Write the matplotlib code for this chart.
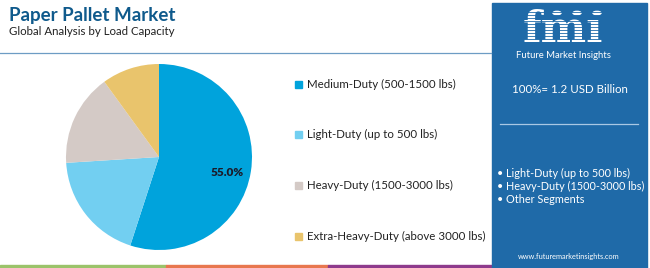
import matplotlib.pyplot as plt
from matplotlib.patches import Rectangle, Circle

segments = ["Medium-Duty (500-1500 lbs)", "Light-Duty (up to 500 lbs)",
            "Heavy-Duty (1500-3000 lbs)", "Extra-Heavy-Duty (above 3000 lbs)"]
shares = [55.0, 19.0, 16.0, 10.0]
colors = ["#00a3dc", "#72cff1", "#d4cac6", "#e9c46c"]
other_segments = ["Light-Duty (up to 500 lbs)", "Heavy-Duty (1500-3000 lbs)", "Other Segments"]
market_size = "100%= 1.2 USD Billion"

W, H = 650, 268
plt.rcParams['font.family'] = ['Lato', 'DejaVu Sans']
fig = plt.figure(figsize=(W / 100, H / 100), dpi=100)
fig.patch.set_facecolor("white")

def fx(x):
    return x / W

def fy(y):
    return 1 - y / H

# title block
fig.text(fx(9), fy(15), "Paper Pallet Market", fontsize=13.5, fontweight="bold",
         color="#0f5a8c", va="center", ha="left")
fig.text(fx(9), fy(31), "Global Analysis by Load Capacity", fontsize=8.3,
         color="#222222", va="center", ha="left")
fig.add_artist(plt.Line2D([0, fx(491)], [fy(52.5), fy(52.5)], color="#6d9cc4", lw=0.9))

# pie
cx, cy, r = 159, 157, 93
ax = fig.add_axes([fx(cx - r), fy(cy + r), fx(2 * r), 2 * r / H])
wedges, _ = ax.pie(shares, colors=colors, startangle=90, counterclock=False,
                   radius=1, wedgeprops=dict(linewidth=0))
ax.set_xlim(-1, 1)
ax.set_ylim(-1, 1)
ax.set_aspect("equal")
ax.axis("off")
fig.text(fx(227), fy(173), f"{shares[0]:.1f}%", fontsize=8.5, fontweight="heavy",
         color="#1b1b2a", ha="center", va="center")

# legend
leg_y = [84, 134, 185, 236]
for lab, col, y in zip(segments, colors, leg_y):
    fig.patches.append(Rectangle((fx(295), fy(y + 3.5)), fx(7), 7 / H, color=col,
                                 transform=fig.transFigure, figure=fig))
    fig.text(fx(307), fy(y), lab, fontsize=8.3, color="#222222", va="center", ha="left")

# bottom color strip
for x0, x1, c in [(0, 166, "#9bc36a"), (166, 328, "#e8774f"), (328, 492, "#8e3a8c")]:
    fig.patches.append(Rectangle((fx(x0), 0), fx(x1 - x0), 3.5 / H, color=c,
                                 transform=fig.transFigure, figure=fig))

# right info panel
box = "#1f6aa8"
fig.patches.append(Rectangle((fx(492), 0), fx(155), fy(3), color=box,
                             transform=fig.transFigure, figure=fig))
fig.text(fx(563), fy(42), "fmı", fontsize=31, fontweight="bold", color="white",
         ha="center", va="baseline", family=["DejaVu Serif"])
for x in [557, 577, 597]:
    fig.patches.append(Circle((fx(x), fy(13)), 4 / W, color="white",
                              transform=fig.transFigure, figure=fig))
for yy in range(12, 46, 3):
    fig.add_artist(plt.Line2D([fx(512), fx(620)], [fy(yy), fy(yy)], color=box, lw=0.6,
                              zorder=5))
fig.text(fx(563), fy(55.5), "Future Market Insights", fontsize=6.8, color="white",
         ha="center", va="center")
fig.text(fx(570), fy(89.5), market_size, fontsize=8.3, color="white",
         ha="center", va="center")
fig.add_artist(plt.Line2D([fx(500), fx(638)], [fy(123.5), fy(123.5)], color="#a9c8e4", lw=0.9))
for i, seg in enumerate(other_segments):
    fig.text(fx(497), fy(173 + 13.3 * i), "• " + seg, fontsize=7.8, color="white",
             ha="left", va="center")
fig.text(fx(569), fy(256), "www.futuremarketinsights.com", fontsize=5.3, color="white",
         ha="center", va="center")

fig.savefig("out.png", dpi=100)
